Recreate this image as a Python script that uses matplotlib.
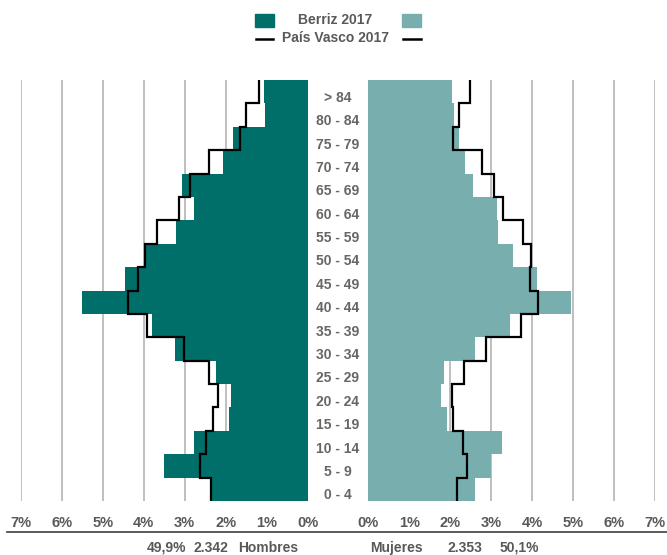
import numpy as np
import matplotlib
matplotlib.use("Agg")
import matplotlib.pyplot as plt
from matplotlib import font_manager
from matplotlib.lines import Line2D
from matplotlib.patches import Rectangle

# ---------------- data (index 0 = youngest group) ----------------
age_groups = ["0 - 4", "5 - 9", "10 - 14", "15 - 19", "20 - 24", "25 - 29", "30 - 34",
              "35 - 39", "40 - 44", "45 - 49", "50 - 54", "55 - 59", "60 - 64",
              "65 - 69", "70 - 74", "75 - 79", "80 - 84", "> 84"]
berriz_men = [2.34, 3.50, 2.78, 1.93, 1.87, 2.24, 3.24, 3.79, 5.50, 4.45,
              4.00, 3.20, 2.77, 3.07, 2.07, 1.81, 1.04, 1.07]
berriz_women = [2.60, 3.00, 3.25, 1.93, 1.77, 1.85, 2.60, 3.46, 4.94, 4.11,
                3.54, 3.17, 3.14, 2.55, 2.37, 2.22, 2.09, 2.03]
pv_men = [2.37, 2.63, 2.49, 2.32, 2.20, 2.41, 3.01, 3.93, 4.38, 4.13,
          3.97, 3.67, 3.13, 2.87, 2.40, 1.65, 1.51, 1.20]
pv_women = [2.16, 2.41, 2.30, 2.07, 2.05, 2.33, 2.87, 3.72, 4.13, 3.95,
            3.98, 3.78, 3.29, 3.07, 2.77, 2.07, 2.21, 2.48]
ticks = [0, 1, 2, 3, 4, 5, 6, 7]
tick_labels = [f"{t}%" for t in ticks]
legend_labels = ["Berriz 2017", "País Vasco 2017"]
men_summary = ["49,9%", "2.342", "Hombres"]
women_summary = ["Mujeres", "2.353", "50,1%"]

# ---------------- style ----------------
names = {f.name for f in font_manager.fontManager.ttflist}
narrow = "Liberation Sans Narrow" if "Liberation Sans Narrow" in names else "Liberation Sans"
plt.rcParams["font.family"] = ["Liberation Sans", "DejaVu Sans"]
DARK = "#006F69"
LIGHT = "#78AFAE"
TXT = "#595959"
GRID = "#BFBFBF"

W, H = 667, 555
fig = plt.figure(figsize=(W / 100, H / 100), dpi=100)

def fx(px):
    return px / W

def fy(py):
    return 1 - py / H

top_px, bot_px = 80, 501
left0, left7 = 307.7, 20.7
right0, right7 = 368.3, 655.3

axL = fig.add_axes([fx(left7), fy(bot_px), fx(left0 - left7), (bot_px - top_px) / H])
axR = fig.add_axes([fx(right0), fy(bot_px), fx(right7 - right0), (bot_px - top_px) / H])
axM = fig.add_axes([fx(left0), fy(bot_px), fx(right0 - left0), (bot_px - top_px) / H])

y = np.arange(len(age_groups))
ystep = np.column_stack([y - 0.5, y + 0.5]).ravel()

for ax, bars, line, col in [(axL, berriz_men, pv_men, DARK),
                            (axR, berriz_women, pv_women, LIGHT)]:
    ax.barh(y, bars, height=1.0, color=col, zorder=2, linewidth=0)
    ax.plot(np.repeat(line, 2), ystep, color="black", lw=1.6, zorder=3,
            solid_joinstyle="miter")
    ax.set_ylim(-0.5, len(age_groups) - 0.5)
    ax.set_xticks(ticks)
    ax.set_xticklabels(tick_labels, fontfamily=narrow, fontsize=10.5,
                       color=TXT, fontweight="bold")
    ax.tick_params(axis="x", length=0, pad=11)
    ax.tick_params(axis="y", left=False, labelleft=False)
    ax.grid(axis="x", color=GRID, lw=1.4, zorder=0)
    ax.set_axisbelow(True)
    for s in ax.spines.values():
        s.set_visible(False)

axL.set_xlim(7, 0)
axR.set_xlim(0, 7)

axM.set_xlim(0, 1)
axM.set_ylim(-0.5, len(age_groups) - 0.5)
axM.axis("off")
for i, lab in enumerate(age_groups):
    axM.text(0.5, i - 0.26, lab, ha="center", va="center", fontsize=10,
             fontweight="bold", color="#666666")

# bottom rule
fig.add_artist(Line2D([fx(7), 1], [fy(532), fy(532)], color="#404040", lw=1.2))

# bottom summary texts
for xp, s in zip([147, 193, 238], men_summary):
    fig.text(fx(xp), fy(548), s, ha="left", va="center", fontsize=10,
             fontweight="bold", color=TXT, fontfamily=narrow if s != "Hombres" else narrow)
for xp, s in zip([370, 448, 500], women_summary):
    fig.text(fx(xp), fy(548), s, ha="left", va="center", fontsize=10,
             fontweight="bold", color=TXT, fontfamily=narrow)

# legend
fig.add_artist(Rectangle((fx(255), fy(27)), fx(19), 13 / H, color=DARK,
                         transform=fig.transFigure))
fig.add_artist(Rectangle((fx(402), fy(27)), fx(19), 13 / H, color=LIGHT,
                         transform=fig.transFigure))
fig.add_artist(Line2D([fx(256), fx(273)], [fy(38.5)] * 2, color="black", lw=1.8))
fig.add_artist(Line2D([fx(403), fx(421)], [fy(38.5)] * 2, color="black", lw=1.8))
fig.text(fx(335), fy(20.5), legend_labels[0], ha="center", va="center",
         fontsize=10, fontweight="bold", color=TXT)
fig.text(fx(335), fy(38), legend_labels[1], ha="center", va="center",
         fontsize=10, fontweight="bold", color=TXT)

fig.savefig("out.png", dpi=100)
